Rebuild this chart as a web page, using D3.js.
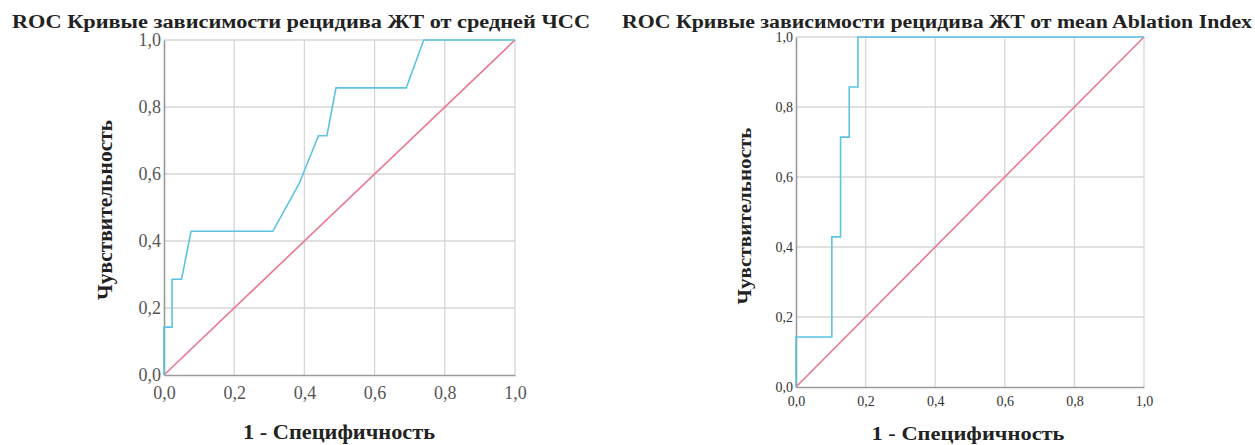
<!DOCTYPE html>
<html>
<head>
<meta charset="utf-8">
<script src="https://cdn.jsdelivr.net/npm/d3@7"></script>
<style>
  body { margin: 0; background: #fff; }
  svg { display: block; }
  text { font-family: "Liberation Serif", "Times New Roman", serif; }
</style>
</head>
<body>
<div id="chart-area"></div>
<script>
// ROC curves, two panels

const ticks = [0, 0.2, 0.4, 0.6, 0.8, 1.0]
const tickLabels = ["0,0", "0,2", "0,4", "0,6", "0,8", "1,0"]

// left: mean heart rate (1 - specificity, sensitivity)
const hrFpr = [0, 0, 0.023, 0.023, 0.05, 0.077, 0.31, 0.385, 0.44, 0.464, 0.49, 0.69, 0.74, 1]
const hrTpr = [0, 0.143, 0.143, 0.286, 0.286, 0.429, 0.429, 0.571, 0.714, 0.714, 0.857, 0.857, 1, 1]

// right: mean Ablation Index
const aiFpr = [0, 0, 0.103, 0.103, 0.128, 0.128, 0.153, 0.153, 0.178, 0.178, 1]
const aiTpr = [0, 0.143, 0.143, 0.429, 0.429, 0.714, 0.714, 0.857, 0.857, 1, 1]

const refLine = [0, 1]

const titles = [
  "ROC Кривые зависимости рецидива ЖТ от средней ЧСС",
  "ROC Кривые зависимости рецидива ЖТ от mean Ablation Index"
]
const yTitle = "Чувствительность"
const xTitle = "1 - Специфичность"

const svg = d3.select("#chart-area").append("svg")
  .attr("width", 1255)
  .attr("height", 445)

function drawPanel(opt) {
  const x = d3.scaleLinear().domain([0, 1]).range([opt.left, opt.right])
  const y = d3.scaleLinear().domain([0, 1]).range([opt.bottom, opt.top])
  const g = svg.append("g")

  // grid
  g.selectAll(".vgrid").data(ticks.slice(1)).enter().append("line")
    .attr("x1", d => x(d)).attr("x2", d => x(d))
    .attr("y1", y(0)).attr("y2", y(1))
    .attr("stroke", "#d6d6d6").attr("stroke-width", 1.3)
  g.selectAll(".hgrid").data(ticks.slice(1)).enter().append("line")
    .attr("y1", d => y(d)).attr("y2", d => y(d))
    .attr("x1", x(0)).attr("x2", x(1))
    .attr("stroke", "#d6d6d6").attr("stroke-width", 1.3)

  // axes
  const xAxis = d3.axisBottom(x).tickValues(ticks).tickSize(0).tickPadding(opt.xPad)
    .tickFormat((d, i) => tickLabels[i])
  const yAxis = d3.axisLeft(y).tickValues(ticks).tickSize(0).tickPadding(opt.yPad)
    .tickFormat((d, i) => tickLabels[i])

  const xg = g.append("g").attr("transform", `translate(0,${opt.bottom})`).call(xAxis)
  const yg = g.append("g").attr("transform", `translate(${opt.left},0)`).call(yAxis)
  ;[xg, yg].forEach(a => {
    a.select(".domain").attr("stroke", "#9a9a9a").attr("stroke-width", 1.6)
    a.selectAll("text")
      .attr("font-family", "Liberation Serif, serif")
      .attr("font-size", opt.tickSize)
      .attr("fill", opt.tickColor)
  })

  // diagonal
  g.append("path")
    .datum(refLine)
    .attr("d", d3.line().x(d => x(d)).y(d => y(d)))
    .attr("fill", "none").attr("stroke", "#e9788f").attr("stroke-width", 1.6)

  // roc curve
  const pts = opt.fpr.map((f, i) => [f, opt.tpr[i]])
  g.append("path")
    .datum(pts)
    .attr("d", d3.line().x(d => x(d[0])).y(d => y(d[1])))
    .attr("fill", "none").attr("stroke", "#5cc3e3").attr("stroke-width", 1.6)

  // titles
  g.append("text")
    .attr("x", opt.titleX).attr("y", opt.titleY)
    .attr("font-size", opt.titleSize).attr("font-weight", "bold")
    .attr("fill", "#222")
    .attr("textLength", opt.titleLen).attr("lengthAdjust", "spacingAndGlyphs")
    .text(opt.title)

  g.append("text")
    .attr("transform", `translate(${opt.yTitleX},${opt.yTitleY}) rotate(-90)`)
    .attr("text-anchor", "middle")
    .attr("font-size", opt.axisTitleSize).attr("font-weight", "bold")
    .attr("fill", "#222")
    .attr("textLength", opt.yTitleLen).attr("lengthAdjust", "spacingAndGlyphs")
    .text(yTitle)

  g.append("text")
    .attr("x", opt.xTitleX).attr("y", opt.xTitleY)
    .attr("text-anchor", "middle")
    .attr("font-size", opt.axisTitleSize).attr("font-weight", "bold")
    .attr("fill", "#222")
    .attr("textLength", opt.xTitleLen).attr("lengthAdjust", "spacingAndGlyphs")
    .text(xTitle)
}

drawPanel({
  left: 164, right: 515, top: 40, bottom: 375,
  fpr: hrFpr, tpr: hrTpr,
  tickSize: "18px", tickColor: "#555", xPad: 11, yPad: 3,
  title: titles[0], titleX: 12, titleY: 28, titleSize: "18px", titleLen: 578,
  yTitleX: 112, yTitleY: 210, yTitleLen: 180,
  xTitleX: 339, xTitleY: 439, xTitleLen: 192, axisTitleSize: "20px"
})

drawPanel({
  left: 796, right: 1144, top: 37, bottom: 387,
  fpr: aiFpr, tpr: aiTpr,
  tickSize: "14px", tickColor: "#333", xPad: 9, yPad: 3,
  title: titles[1], titleX: 622, titleY: 28, titleSize: "18px", titleLen: 630,
  yTitleX: 751, yTitleY: 216, yTitleLen: 177,
  xTitleX: 968, xTitleY: 440, xTitleLen: 193, axisTitleSize: "19px"
})
</script>
</body>
</html>
